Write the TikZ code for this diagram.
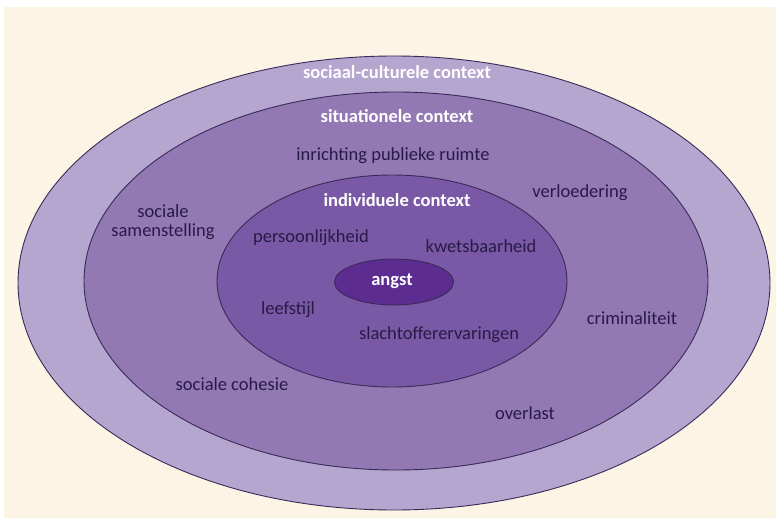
\documentclass[tikz,border=0pt]{standalone}
\usepackage{fontspec}
\setmainfont{Carlito}
\usetikzlibrary{shapes.geometric}
\definecolor{cream}{RGB}{252,244,228}
\definecolor{ringA}{RGB}{181,166,207}
\definecolor{ringB}{RGB}{146,121,180}
\definecolor{ringC}{RGB}{121,89,165}
\definecolor{ringD}{RGB}{92,44,145}
\definecolor{edge}{RGB}{58,42,88}
\definecolor{ink}{RGB}{40,26,70}
\begin{document}
\begin{tikzpicture}[x=1pt,y=-1pt]
\tikzset{ring/.style={draw=edge, line width=0.9pt, ellipse, inner sep=0pt},
  titel/.style={text=white, font=\fontsize{18.5}{20}\selectfont\bfseries},
  factor/.style={text=ink, font=\fontsize{18.5}{19}\selectfont, align=center}}
\fill[white] (0,0) rectangle (776,527);
\fill[cream] (4,7) rectangle (776,518);
\node[ring, fill=ringA, minimum width=752pt, minimum height=454pt] (socio) at (394,283) {};
\node[ring, fill=ringB, minimum width=624pt, minimum height=378pt] (situ) at (396,281) {};
\node[ring, fill=ringC, minimum width=350pt, minimum height=212pt] (indi) at (392,281) {};
\node[ring, fill=ringD, minimum width=119pt, minimum height=46pt] (angst) at (394,282) {};
\node[titel] (Tsocio) at (397,72) {sociaal-culturele context};
\node[titel] (Tsitu) at (397,116) {situationele context};
\node[titel] (Tindi) at (397,200) {individuele context};
\node[titel] (Tangst) at (392,281) {angst};
\node[factor] (inrichting) at (393,156) {inrichting publieke ruimte};
\node[factor] (verloedering) at (580,193) {verloedering};
\node[factor] (samenstelling) at (163,222) {sociale\\samenstelling};
\node[factor] (persoon) at (311,238) {persoonlijkheid};
\node[factor] (kwets) at (481,246) {kwetsbaarheid};
\node[factor] (leefstijl) at (288,310) {leefstijl};
\node[factor] (slachtoffer) at (439,335) {slachtofferervaringen};
\node[factor] (crimi) at (632,318) {criminaliteit};
\node[factor] (cohesie) at (232,384) {sociale cohesie};
\node[factor] (overlast) at (525,413) {overlast};
\end{tikzpicture}
\end{document}
